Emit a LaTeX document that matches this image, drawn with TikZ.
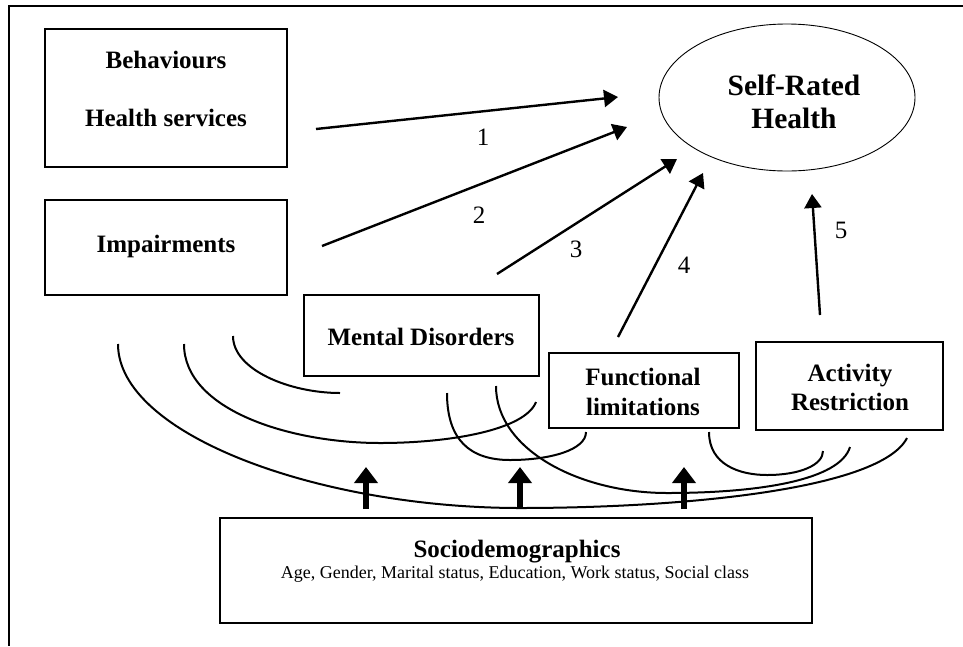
\documentclass[tikz,border=0pt]{standalone}
\usepackage{fontspec}
\setmainfont{Liberation Serif}
\usetikzlibrary{arrows.meta,shapes.geometric}
\begin{document}
\begin{tikzpicture}[x=1pt,y=-1pt,
  box/.style={draw, line width=1.2pt, rectangle, inner sep=0pt},
  oval/.style={draw, line width=0.9pt, ellipse, inner sep=0pt},
  lbl/.style={font=\fontsize{25}{30}\selectfont\bfseries, anchor=base, inner sep=0pt},
  biglbl/.style={font=\fontsize{29.5}{33}\selectfont\bfseries, anchor=base, inner sep=0pt},
  small/.style={font=\fontsize{18}{21}\selectfont, anchor=base, inner sep=0pt},
  num/.style={font=\fontsize{25}{30}\selectfont, anchor=base, inner sep=0pt},
  link/.style={line width=2.4pt, -{Triangle[length=14pt,width=17pt]}},
  bigarr/.style={line width=6pt, -{Triangle[length=16pt,width=23pt]}},
  arcline/.style={line width=2pt},
  frame/.style={line width=2.4pt}]
\useasboundingbox (0,0) rectangle (963,646);

% frame (top and left)
\coordinate (fTL) at (9.2,5.8);
\coordinate (fTR) at (963,5.8);
\coordinate (fBL) at (9.2,646);
\draw[frame] (fTR) -- (fTL) -- (fBL);

% boxes
\node[box, minimum width=242pt, minimum height=138pt] (beh) at (166,98) {};
\node[box, minimum width=242pt, minimum height=95pt] (imp) at (166,247.5) {};
\node[box, minimum width=235pt, minimum height=81pt] (men) at (421.5,335.5) {};
\node[box, minimum width=190pt, minimum height=75pt] (fun) at (644,390.5) {};
\node[box, minimum width=187pt, minimum height=88pt] (act) at (849.5,386) {};
\node[box, minimum width=592pt, minimum height=105pt] (soc) at (516,570.5) {};
\node[oval, minimum width=256pt, minimum height=147pt] (srh) at (787,97.5) {};

% texts
\node[lbl] (behT) at (166,68) {Behaviours};
\node[lbl] (hsT) at (166,126) {Health services};
\node[lbl] (impT) at (166,252) {Impairments};
\node[lbl] (menT) at (421,345) {Mental Disorders};
\node[lbl] (funT1) at (643,385) {Functional};
\node[lbl] (funT2) at (643,415) {limitations};
\node[lbl] (actT1) at (850,381) {Activity};
\node[lbl] (actT2) at (850,410) {Restriction};
\node[biglbl] (srhT1) at (794,95) {Self-Rated};
\node[biglbl] (srhT2) at (794,128) {Health};
\node[lbl] (socT) at (517,557) {Sociodemographics};
\node[small] (socT2) at (515,578) {Age, Gender, Marital status, Education, Work status, Social class};

% numbers
\node[num] (n1) at (483,145) {1};
\node[num] (n2) at (479,223) {2};
\node[num] (n3) at (576,257) {3};
\node[num] (n4) at (684,273) {4};
\node[num] (n5) at (841,238) {5};

% arrows to Self-Rated Health
\coordinate (a1s) at (316,129);  \coordinate (a1e) at (618,97);
\coordinate (a2s) at (322,246);  \coordinate (a2e) at (627,127);
\coordinate (a3s) at (497,274);  \coordinate (a3e) at (677,159);
\coordinate (a4s) at (618,337);  \coordinate (a4e) at (703,173);
\coordinate (a5s) at (820,315);  \coordinate (a5e) at (812,194);
\draw[link] (a1s) -- (a1e);
\draw[link] (a2s) -- (a2e);
\draw[link] (a3s) -- (a3e);
\draw[link] (a4s) -- (a4e);
\draw[link] (a5s) -- (a5e);

% thick arrows from sociodemographics
\coordinate (t1s) at (366,509); \coordinate (t1e) at (366,467);
\coordinate (t2s) at (520,509); \coordinate (t2e) at (520,467);
\coordinate (t3s) at (684,509); \coordinate (t3e) at (684,467);
\draw[bigarr] (t1s) -- (t1e);
\draw[bigarr] (t2s) -- (t2e);
\draw[bigarr] (t3s) -- (t3e);

% association arcs
\coordinate (c1a) at (118,344); \coordinate (c1b) at (907,438);
\coordinate (c2a) at (184,344); \coordinate (c2b) at (536,402);
\coordinate (c3a) at (233,336); \coordinate (c3b) at (340,393);
\coordinate (c4a) at (447,393); \coordinate (c4b) at (586,432);
\coordinate (c5a) at (496,386); \coordinate (c5b) at (850,447);
\coordinate (c6a) at (709,432); \coordinate (c6b) at (823,451);
\draw[arcline] (c1a) .. controls (118,435) and (320,508) .. (520,508)
               .. controls (680,508) and (880,490) .. (c1b);
\draw[arcline] (c2a) .. controls (184,410) and (290,443) .. (380,443)
               .. controls (450,443) and (525,430) .. (c2b);
\draw[arcline] (c3a) .. controls (233,370) and (290,393) .. (c3b);
\draw[arcline] (c4a) .. controls (447,440) and (470,460) .. (510,460)
               .. controls (550,460) and (586,450) .. (c4b);
\draw[arcline] (c5a) .. controls (496,450) and (580,493) .. (667,493)
               .. controls (760,493) and (840,480) .. (c5b);
\draw[arcline] (c6a) .. controls (709,465) and (740,475) .. (767,475)
               .. controls (800,475) and (823,465) .. (c6b);
\end{tikzpicture}
\end{document}
